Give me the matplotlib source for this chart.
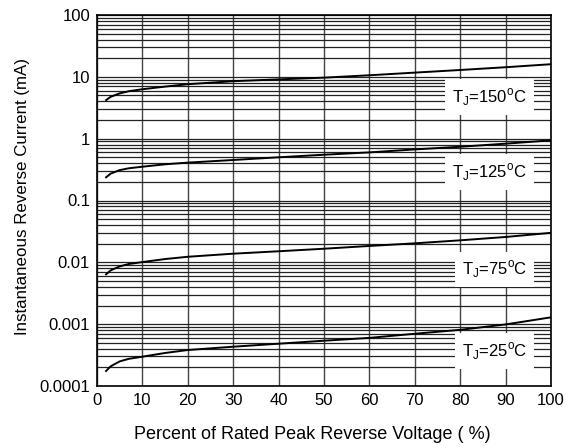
import numpy as np
import matplotlib
matplotlib.use("Agg")
import matplotlib.pyplot as plt
from matplotlib.ticker import LogLocator, FixedLocator, FixedFormatter, NullFormatter

plt.rcParams["font.family"] = ["Liberation Sans", "DejaVu Sans"]
plt.rcParams["mathtext.fontset"] = "custom"
plt.rcParams["mathtext.rm"] = "Liberation Sans"

# percent of rated peak reverse voltage
volt = [2, 3, 5, 7, 10, 15, 20, 30, 40, 50, 60, 70, 80, 90, 100]

# reverse current (mA) per junction temperature
ir_150 = [4.2, 4.75, 5.4, 5.85, 6.3, 6.95, 7.6, 8.5, 9.1, 9.7, 10.6, 11.7, 12.9, 14.3, 16.0]
ir_125 = [0.237, 0.272, 0.31, 0.332, 0.352, 0.385, 0.41, 0.452, 0.50, 0.55, 0.60, 0.67, 0.74, 0.83, 0.94]
ir_75 = [0.0064, 0.0074, 0.0086, 0.0094, 0.0101, 0.0113, 0.0123, 0.0138, 0.0151, 0.0166, 0.0184, 0.0203, 0.0227, 0.0257, 0.030]
ir_25 = [0.000175, 0.000208, 0.00025, 0.000275, 0.000298, 0.000342, 0.000382, 0.000432, 0.000483, 0.00054, 0.0006, 0.0007, 0.00081, 0.00099, 0.00129]

curves = [ir_150, ir_125, ir_75, ir_25]
labels = [r"T$_{\rm J}$=150$^{\rm o}$C", r"T$_{\rm J}$=125$^{\rm o}$C",
          r"T$_{\rm J}$=75$^{\rm o}$C", r"T$_{\rm J}$=25$^{\rm o}$C"]
label_x = [86.5, 86.5, 87.5, 87.5]
label_y = [4.77, 0.292, 0.0077, 0.000368]

y_ticks = [0.0001, 0.001, 0.01, 0.1, 1, 10, 100]
y_ticklabels = ["0.0001", "0.001", "0.01", "0.1", "1", "10", "100"]
x_ticks = list(range(0, 101, 10))

fig = plt.figure(figsize=(5.72, 4.46), dpi=100)
ax = fig.add_axes([97 / 572, 60 / 446, 454 / 572, 371 / 446])

ax.set_yscale("log")
ax.set_xlim(0, 100)
ax.set_ylim(0.0001, 100)

# grid
ax.yaxis.set_major_locator(FixedLocator(y_ticks))
ax.yaxis.set_major_formatter(FixedFormatter(y_ticklabels))
ax.yaxis.set_minor_locator(LogLocator(base=10, subs=np.arange(2, 10), numticks=20))
ax.yaxis.set_minor_formatter(NullFormatter())
ax.set_xticks(x_ticks)
ax.grid(True, which="both", axis="y", color="#222222", linewidth=0.9)
ax.grid(True, which="major", axis="x", color="#444444", linewidth=1.0)
ax.set_axisbelow(True)

for ir in curves:
    ax.plot(volt, ir, color="black", linewidth=1.4, zorder=3)

for lx, ly, txt in zip(label_x, label_y, labels):
    ax.text(lx, ly, txt, fontsize=12, ha="center", va="center", zorder=4,
            bbox=dict(facecolor="white", edgecolor="none", pad=5))

for s in ax.spines.values():
    s.set_linewidth(1.2)
    s.set_color("black")

ax.tick_params(which="both", length=0, labelsize=12, pad=5)
ax.set_ylabel("Instantaneous Reverse Current (mA)", fontsize=12.2)
ax.yaxis.set_label_coords(-0.147, 0.51)
ax.set_xlabel("Percent of Rated Peak Reverse Voltage ( %)", fontsize=13)
ax.xaxis.set_label_coords(0.474, -0.108)

fig.savefig("out.png", dpi=100, facecolor="white")
